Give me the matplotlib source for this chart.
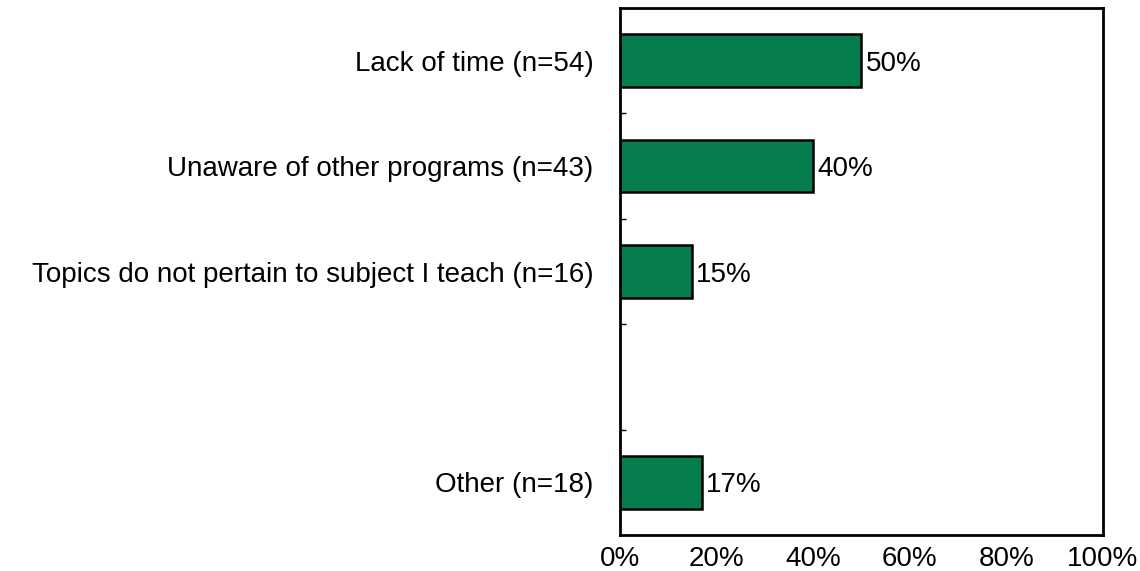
import matplotlib
matplotlib.use('Agg')
import matplotlib.pyplot as plt
import numpy as np

# Reasons for not attending other programs
categories = [
    'Lack of time (n=54)',
    'Unaware of other programs (n=43)',
    'Topics do not pertain to subject I teach (n=16)',
    '',
    'Other (n=18)',
]
percents = [50, 40, 15, np.nan, 17]
x_ticks = [0, 20, 40, 60, 80, 100]

plt.rcParams['font.family'] = ['Liberation Sans', 'DejaVu Sans']

fig = plt.figure(figsize=(11.4, 5.71), dpi=100)
ax = fig.add_axes([0.5439, 0.063, 0.4236, 0.923])

ypos = np.arange(len(categories))
ax.barh(ypos, percents, height=0.5, color='#067d4c', edgecolor='black', linewidth=1.8)

for y, v in zip(ypos, percents):
    if np.isnan(v):
        continue
    ax.text(v + 0.8, y + 0.03, f'{v:.0f}%', va='center', ha='left', fontsize=20)

ax.set_xlim(0, 100)
ax.set_ylim(len(categories) - 0.5, -0.5)
ax.set_xticks(x_ticks)
ax.set_xticklabels([f'{t}%' for t in x_ticks], fontsize=20)
ax.set_yticks(ypos)
ax.set_yticklabels(categories, fontsize=20)
ax.set_yticks(np.arange(0.5, len(categories) - 0.5), minor=True)
ax.tick_params(axis='y', which='major', length=0, pad=19)
ax.tick_params(axis='y', which='minor', length=4, direction='in', width=1)
ax.tick_params(axis='x', length=0, pad=8)

for s in ax.spines.values():
    s.set_linewidth(2)

fig.savefig('out.png', dpi=100)
